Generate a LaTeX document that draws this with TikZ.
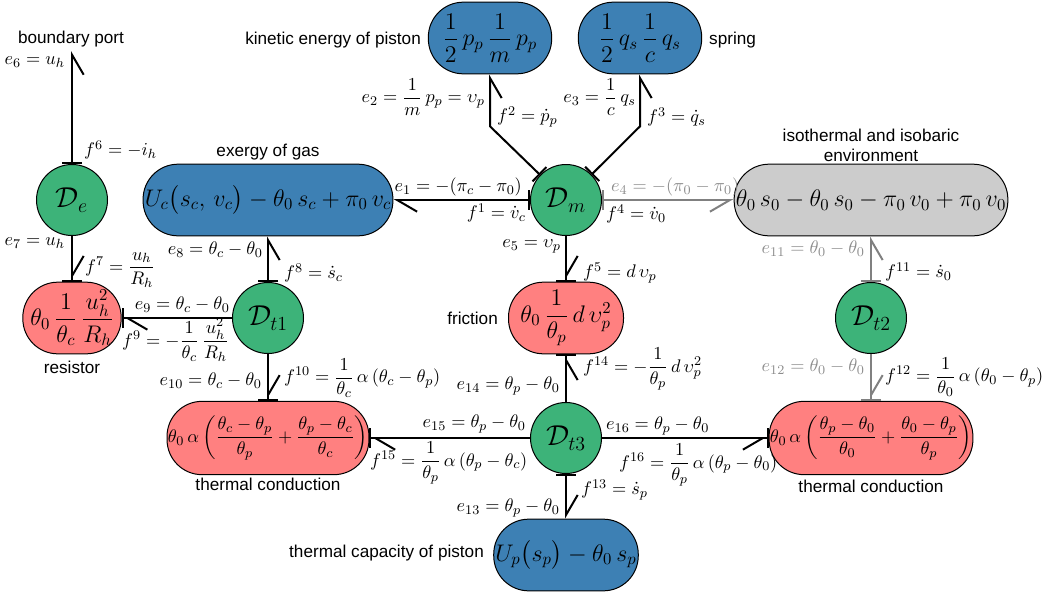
\documentclass[tikz,border=0pt]{standalone}
\usepackage{amsmath}
\usepackage{fontspec}
\newfontfamily\lblfont{Liberation Sans}
\usetikzlibrary{arrows.meta,calc}

\definecolor{stblue}{RGB}{61,128,180}
\definecolor{rspink}{RGB}{255,128,128}
\definecolor{jgreen}{RGB}{61,179,121}
\definecolor{envgray}{RGB}{204,204,204}
\definecolor{bondgray}{RGB}{128,128,128}
\definecolor{lblgray}{RGB}{140,140,140}

\tikzset{every picture/.style={line width=0.6pt}}
\tikzset{
  store/.style={draw, rectangle, rounded corners=21pt, fill=stblue, minimum height=43pt, inner xsep=1pt, font=\fontsize{14}{16}\selectfont},
  resist/.style={store, fill=rspink},
  cond/.style={resist, minimum height=44pt, inner xsep=0.5pt, font=\fontsize{10.8}{13}\selectfont},
  envst/.style={store, fill=envgray},
  junc/.style={draw, circle, fill=jgreen, minimum size=42.6pt, inner sep=0pt, font=\fontsize{17}{20}\selectfont},
  bond/.style={line width=1.2pt},
  sbl/.style={bond, arrows={Bar[width=12pt]-Straight Barb[left,length=12pt,width=14pt]}},
  sbr/.style={bond, arrows={Bar[width=12pt]-Straight Barb[right,length=12pt,width=14pt]}},
  ebl/.style={bond, arrows={-Straight Barb[left,length=12pt,width=14pt,sep=0pt]Bar[width=12pt]}},
  ebr/.style={bond, arrows={-Straight Barb[right,length=12pt,width=14pt,sep=0pt]Bar[width=12pt]}},
  lbl/.style={inner sep=1pt, font=\fontsize{11}{13}\selectfont},
  txt/.style={inner sep=1pt, font=\lblfont\fontsize{10.3}{12}\selectfont},
}

\begin{document}
\begin{tikzpicture}[x=0.6pt,y=-0.6pt]
\useasboundingbox (0,0) rectangle (1043,591);

%Junctions
\node[junc] (De) at (72,200) {$\mathcal{D}_e$};
\node[junc] (Dm) at (566,200) {$\mathcal{D}_m$};
\node[junc] (Dt1) at (268,318) {$\mathcal{D}_{t1}$};
\node[junc] (Dt2) at (871,318) {$\mathcal{D}_{t2}$};
\node[junc] (Dt3) at (566,438) {$\mathcal{D}_{t3}$};

%Storages
\node[store] (exg) at (268,200) {$U_c\bigl(s_c,\,v_c\bigr)-\theta_0\,s_c+\pi_0\,v_c$};
\node[store, minimum width=74pt] (kin) at (490,38) {$\dfrac{1}{2}\,p_p\,\dfrac{1}{m}\,p_p$};
\node[store, minimum width=74pt] (spr) at (640,38) {$\dfrac{1}{2}\,q_s\,\dfrac{1}{c}\,q_s$};
\node[envst] (env) at (871,200) {$\theta_0\,s_0-\theta_0\,s_0-\pi_0\,v_0+\pi_0\,v_0$};
\node[store] (cap) at (566,555) {$U_p\bigl(s_p\bigr)-\theta_0\,s_p$};

%Dissipations
\node[resist, minimum width=59pt] (res) at (72,318) {$\theta_0\,\dfrac{1}{\theta_c}\,\dfrac{u_h^2}{R_h}$};
\node[resist, minimum width=69pt] (fric) at (566,318) {$\theta_0\,\dfrac{1}{\theta_p}\,d\,\upsilon_p^2$};
\node[cond] (tcl) at (268,438) {$\theta_0\,\alpha\left(\dfrac{\theta_c-\theta_p}{\theta_p}+\dfrac{\theta_p-\theta_c}{\theta_c}\right)$};
\node[cond] (tcr) at (871,438) {$\theta_0\,\alpha\left(\dfrac{\theta_p-\theta_0}{\theta_0}+\dfrac{\theta_0-\theta_p}{\theta_p}\right)$};

%Texts
\node[txt] (tbp) at (71,39) {boundary port};
\node[txt] (tex) at (268,152) {exergy of gas};
\node[txt, anchor=east] (tkin) at (423,40) {kinetic energy of piston};
\node[txt, anchor=west] (tspr) at (707,40) {spring};
\node[txt, align=center] (tenv) at (871,145) {isothermal and isobaric\\environment};
\node[txt] (tres) at (72,367) {resistor};
\node[txt, anchor=east] (tfric) at (500,318) {friction};
\node[txt] (ttcl) at (268,484) {thermal conduction};
\node[txt] (ttcr) at (871,486) {thermal conduction};
\node[txt, anchor=east] (tcap) at (486,553) {thermal capacity of piston};

%Bonds
\coordinate (bp) at (72,51);
\coordinate (kc) at ($(kin.south)+(0,52)$);
\coordinate (sc) at ($(spr.south)+(0,52)$);
\draw[sbl] (Dm) -- (exg);
\draw[sbr] (Dm) -- (kc) -- (kin);
\draw[sbr] (Dm) -- (sc) -- (spr);
\draw[sbr, draw=bondgray] (Dm) -- (env);
\draw[ebl] (Dm) -- (fric);
\draw[sbr] (De) -- (bp);
\draw[ebl] (De) -- (res);
\draw[sbr] (Dt1) -- (exg);
\draw[ebl] (Dt1) -- (res);
\draw[ebl] (Dt1) -- (tcl);
\draw[sbr, draw=bondgray] (Dt2) -- (env);
\draw[ebl, draw=bondgray] (Dt2) -- (tcr);
\draw[sbl] (Dt3) -- (cap);
\draw[ebr] (Dt3) -- (fric);
\draw[ebl] (Dt3) -- (tcl);
\draw[ebr] (Dt3) -- (tcr);

%Efforts and flows
\node[lbl, anchor=east] (e6) at (67,62) {$e_6=u_h$};
\node[lbl, anchor=west] (f6) at (82,150) {$f^6=-i_h$};
\node[lbl, anchor=east] (e1) at (524,187) {$e_1=-(\pi_c-\pi_0)$};
\node[lbl, anchor=east] (f1) at (528,213) {$f^1=\dot{v}_c$};
\node[lbl, anchor=east] (e2) at (487,97) {$e_2=\dfrac{1}{m}\,p_p=\upsilon_p$};
\node[lbl, anchor=west] (f2) at (495,117) {$f^2=\dot{p}_p$};
\node[lbl, anchor=east] (e3) at (638,97) {$e_3=\dfrac{1}{c}\,q_s$};
\node[lbl, anchor=west] (f3) at (645,117) {$f^3=\dot{q}_s$};
\node[lbl, anchor=west, text=lblgray] (e4) at (609,187) {$e_4=-(\pi_0-\pi_0)$};
\node[lbl, anchor=west] (f4) at (604,214) {$f^4=\dot{v}_0$};
\node[lbl, anchor=east] (e5) at (563,246) {$e_5=\upsilon_p$};
\node[lbl, anchor=west] (f5) at (581,273) {$f^5=d\,\upsilon_p$};
\node[lbl, anchor=east] (e7) at (67,243) {$e_7=u_h$};
\node[lbl, anchor=west] (f7) at (83,270) {$f^7=\dfrac{u_h}{R_h}$};
\node[lbl, anchor=east] (e8) at (265,250) {$e_8=\theta_c-\theta_0$};
\node[lbl, anchor=west] (f8) at (282,273) {$f^8=\dot{s}_c$};
\node[lbl, anchor=east] (e9) at (232,305) {$e_9=\theta_c-\theta_0$};
\node[lbl, anchor=west] (f9) at (120,340) {$f^9=-\dfrac{1}{\theta_c}\,\dfrac{u_h^2}{R_h}$};
\node[lbl, anchor=east] (e10) at (264,381) {$e_{10}=\theta_c-\theta_0$};
\node[lbl, anchor=west] (f10) at (282,378) {$f^{10}=\dfrac{1}{\theta_c}\,\alpha\,(\theta_c-\theta_p)$};
\node[lbl, anchor=east, text=lblgray] (e11) at (867,249) {$e_{11}=\theta_0-\theta_0$};
\node[lbl, anchor=west] (f11) at (883,272) {$f^{11}=\dot{s}_0$};
\node[lbl, anchor=east, text=lblgray] (e12) at (867,367) {$e_{12}=\theta_0-\theta_0$};
\node[lbl, anchor=west] (f12) at (883,377) {$f^{12}=\dfrac{1}{\theta_0}\,\alpha\,(\theta_0-\theta_p)$};
\node[lbl, anchor=east] (e13) at (562,508) {$e_{13}=\theta_p-\theta_0$};
\node[lbl, anchor=west] (f13) at (579,490) {$f^{13}=\dot{s}_p$};
\node[lbl, anchor=east] (e14) at (562,386) {$e_{14}=\theta_p-\theta_0$};
\node[lbl, anchor=west] (f14) at (581,369) {$f^{14}=-\dfrac{1}{\theta_p}\,d\,\upsilon_p^2$};
\node[lbl, anchor=east] (e15) at (528,424) {$e_{15}=\theta_p-\theta_0$};
\node[lbl, anchor=west] (f15) at (368,463) {$f^{15}=\dfrac{1}{\theta_p}\,\alpha\,(\theta_p-\theta_c)$};
\node[lbl, anchor=west] (e16) at (604,426) {$e_{16}=\theta_p-\theta_0$};
\node[lbl, anchor=west] (f16) at (617,465) {$f^{16}=\dfrac{1}{\theta_p}\,\alpha\,(\theta_p-\theta_0)$};
\end{tikzpicture}
\end{document}
